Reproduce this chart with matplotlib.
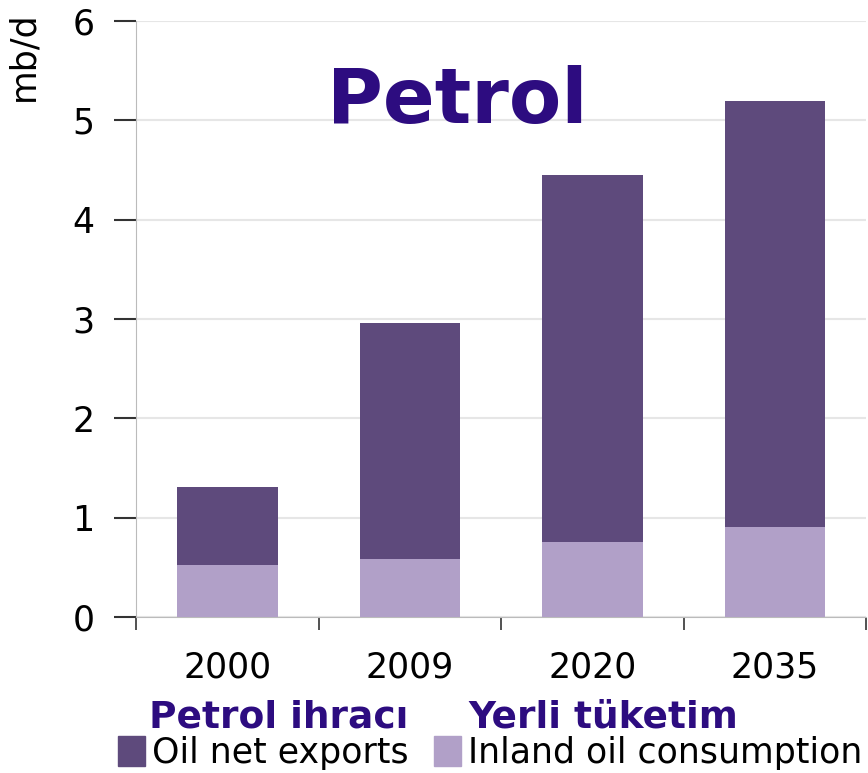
import matplotlib.pyplot as plt
import numpy as np
from matplotlib.patches import Patch

years = ['2000', '2009', '2020', '2035']
consumption = [0.52, 0.58, 0.75, 0.90]
exports = [0.79, 2.38, 3.70, 4.29]

dark = '#5E4A7C'
light = '#B1A0C8'
title_col = '#2D0C80'

fig = plt.figure(figsize=(8.68, 7.73), dpi=100)
ax = fig.add_axes([0.157, 0.202, 0.841, 0.771])

x = np.arange(len(years))
ax.bar(x, consumption, width=0.55, color=light, zorder=3)
ax.bar(x, exports, width=0.55, bottom=consumption, color=dark, zorder=3)

ax.set_xlim(-0.5, 3.5)
ax.set_ylim(0, 6)
ax.set_yticks(range(7))
ax.yaxis.grid(True, color='#E6E6E6', lw=1.5, zorder=0)
ax.set_xticks(x)
ax.set_xticklabels(years)
ax.set_xticks(np.arange(-0.5, 4, 1), minor=True)
ax.tick_params(axis='x', which='major', length=0, pad=24, labelsize=25)
ax.tick_params(axis='x', which='minor', length=9, width=1.2, color='#333333', direction='out')
ax.tick_params(axis='y', length=16, width=1.5, color='#333333', labelsize=25, pad=14)
for s in ['top', 'right']:
    ax.spines[s].set_visible(False)
ax.spines['left'].set_color('#BBBBBB')
ax.spines['bottom'].set_color('#BBBBBB')
ax.set_ylabel('mb/d', fontsize=25)
ax.yaxis.set_label_coords(-0.132, 0.94)

fig.text(0.527, 0.868, 'Petrol', fontsize=55, fontweight='bold', color=title_col, ha='center', va='center')

handles = [Patch(color=dark), Patch(color=light)]
fig.legend(handles, ['Oil net exports', 'Inland oil consumption'], loc='lower left',
           bbox_to_anchor=(0.12, -0.014), ncol=2, frameon=False, fontsize=25,
           handlelength=0.78, handleheight=0.95, handletextpad=0.2, columnspacing=0.72,
           borderaxespad=0)
fig.text(0.172, 0.049, 'Petrol ihracı', fontsize=27, fontweight='bold', color=title_col, ha='left', va='bottom')
fig.text(0.54, 0.049, 'Yerli tüketim', fontsize=27, fontweight='bold', color=title_col, ha='left', va='bottom')

fig.savefig('out.png', dpi=100)
